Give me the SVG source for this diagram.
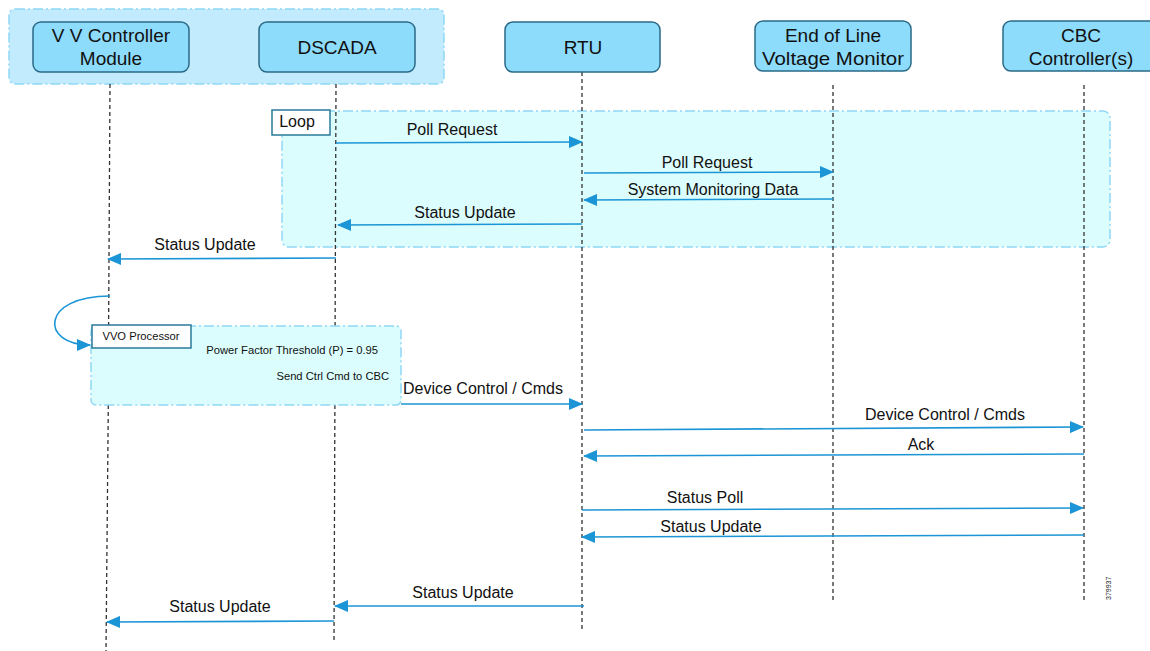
<svg xmlns="http://www.w3.org/2000/svg" width="1150" height="651" viewBox="0 0 1150 651">
<style>
.node{fill:#8edcfc;stroke:#2a6a86;stroke-width:1.5}
.ntext{font-family:"Liberation Sans",Arial,sans-serif;font-size:19px;fill:#111;text-anchor:middle}
.life{stroke:#333;stroke-width:1.3;stroke-dasharray:4,3;fill:none}
.msg{stroke:#1b95d5;stroke-width:1.6;fill:none}
.lbl{font-family:"Liberation Sans",Arial,sans-serif;font-size:16px;fill:#111;text-anchor:middle}
.small{font-family:"Liberation Sans",Arial,sans-serif;font-size:11.2px;fill:#111}
.frame{stroke:#8fd8f5;stroke-width:1.5;stroke-dasharray:10,3,2,3}
.tag{fill:#fff;stroke:#2a7a9a;stroke-width:1.5}
</style>
<defs>
<marker id="ah" markerWidth="14" markerHeight="12" refX="13" refY="6" orient="auto" markerUnits="userSpaceOnUse">
<path d="M0,0 L14,6 L0,12 Z" fill="#1b95d5"/>
</marker>
</defs>
<rect width="1150" height="651" fill="#fff"/>
<rect class="frame" x="9" y="9" width="435" height="75" rx="6" fill="#c2ebfd"/>
<g id="loop-frame">
<rect class="frame" x="282" y="111" width="828" height="136" rx="7" fill="#dcfdfd"/>
</g>
<g id="lifelines">
<line class="life" x1="110" y1="84" x2="108.6" y2="326"/>
<line class="life" x1="108.3" y1="405" x2="106" y2="651"/>
<line class="life" x1="336" y1="84" x2="335.1" y2="326"/>
<line class="life" x1="334.9" y1="405" x2="334" y2="641"/>
<line class="life" x1="582" y1="72" x2="582" y2="631"/>
<line class="life" x1="833" y1="85" x2="833" y2="601"/>
<line class="life" x1="1084" y1="85" x2="1084" y2="600"/>
</g>
<g id="vvo-frame">
<rect class="frame" x="91" y="326" width="310" height="79" rx="5" fill="#dcfdfd"/>
</g>
<g id="node-vv"><rect class="node" x="33" y="22" width="156" height="50" rx="8"/><text class="ntext" x="111" y="42">V V Controller</text><text class="ntext" x="111" y="65">Module</text></g>
<g id="node-dscada"><rect class="node" x="259" y="22" width="156" height="50" rx="8"/><text class="ntext" x="337" y="54">DSCADA</text></g>
<g id="node-rtu"><rect class="node" x="505" y="22" width="155" height="50" rx="8"/><text class="ntext" x="583" y="54">RTU</text></g>
<g id="node-eol"><rect class="node" x="755" y="21" width="156" height="50" rx="8"/><text class="ntext" x="833" y="42">End of Line</text><text class="ntext" x="833" y="65" textLength="142" lengthAdjust="spacingAndGlyphs">Voltage Monitor</text></g>
<g id="node-cbc"><rect class="node" x="1003" y="21" width="157" height="50" rx="8"/><text class="ntext" x="1081" y="42">CBC</text><text class="ntext" x="1081" y="65">Controller(s)</text></g>
<g id="loop-tag"><rect class="tag" x="272" y="110" width="58" height="25"/><text class="lbl" x="297" y="127" font-size="14">Loop</text></g>
<g id="vvo-tag"><rect class="tag" x="92" y="325" width="99" height="23"/><text class="small" x="141" y="340" text-anchor="middle">VVO Processor</text></g>
<g id="vvo-text">
<text class="small" x="378" y="354" text-anchor="end">Power Factor Threshold (P) = 0.95</text>
<text class="small" x="389" y="380" text-anchor="end">Send Ctrl Cmd to CBC</text>
</g>
<g id="connectors">
<line class="msg" x1="336" y1="143" x2="582" y2="142" marker-end="url(#ah)"/>
<text class="lbl" x="452" y="135">Poll Request</text>
<line class="msg" x1="584" y1="173" x2="833" y2="172" marker-end="url(#ah)"/>
<text class="lbl" x="707" y="168">Poll Request</text>
<line class="msg" x1="833" y1="199" x2="584" y2="200" marker-end="url(#ah)"/>
<text class="lbl" x="713" y="195">System Monitoring Data</text>
<line class="msg" x1="582" y1="224" x2="338" y2="225" marker-end="url(#ah)"/>
<text class="lbl" x="465" y="218">Status Update</text>
<line class="msg" x1="336" y1="258" x2="108" y2="259" marker-end="url(#ah)"/>
<text class="lbl" x="205" y="250">Status Update</text>
<path class="msg" d="M110,296 C40,296 40,345 90,345" marker-end="url(#ah)"/>
<line class="msg" x1="401" y1="404" x2="582" y2="404" marker-end="url(#ah)"/>
<text class="lbl" x="483" y="394">Device Control / Cmds</text>
<line class="msg" x1="584" y1="430" x2="1083" y2="427" marker-end="url(#ah)"/>
<text class="lbl" x="945" y="420">Device Control / Cmds</text>
<line class="msg" x1="1084" y1="454" x2="584" y2="456" marker-end="url(#ah)"/>
<text class="lbl" x="921" y="450">Ack</text>
<line class="msg" x1="582" y1="510" x2="1083" y2="508" marker-end="url(#ah)"/>
<text class="lbl" x="705" y="503">Status Poll</text>
<line class="msg" x1="1084" y1="535" x2="582" y2="537" marker-end="url(#ah)"/>
<text class="lbl" x="711" y="532">Status Update</text>
<line class="msg" x1="584" y1="606" x2="335" y2="606" marker-end="url(#ah)"/>
<text class="lbl" x="463" y="598">Status Update</text>
<line class="msg" x1="334" y1="621" x2="107" y2="622" marker-end="url(#ah)"/>
<text class="lbl" x="220" y="612">Status Update</text>
</g>
<text font-family="'Liberation Sans',Arial,sans-serif" font-size="7" fill="#222" transform="translate(1111,600) rotate(-90)">379937</text>
</svg>
